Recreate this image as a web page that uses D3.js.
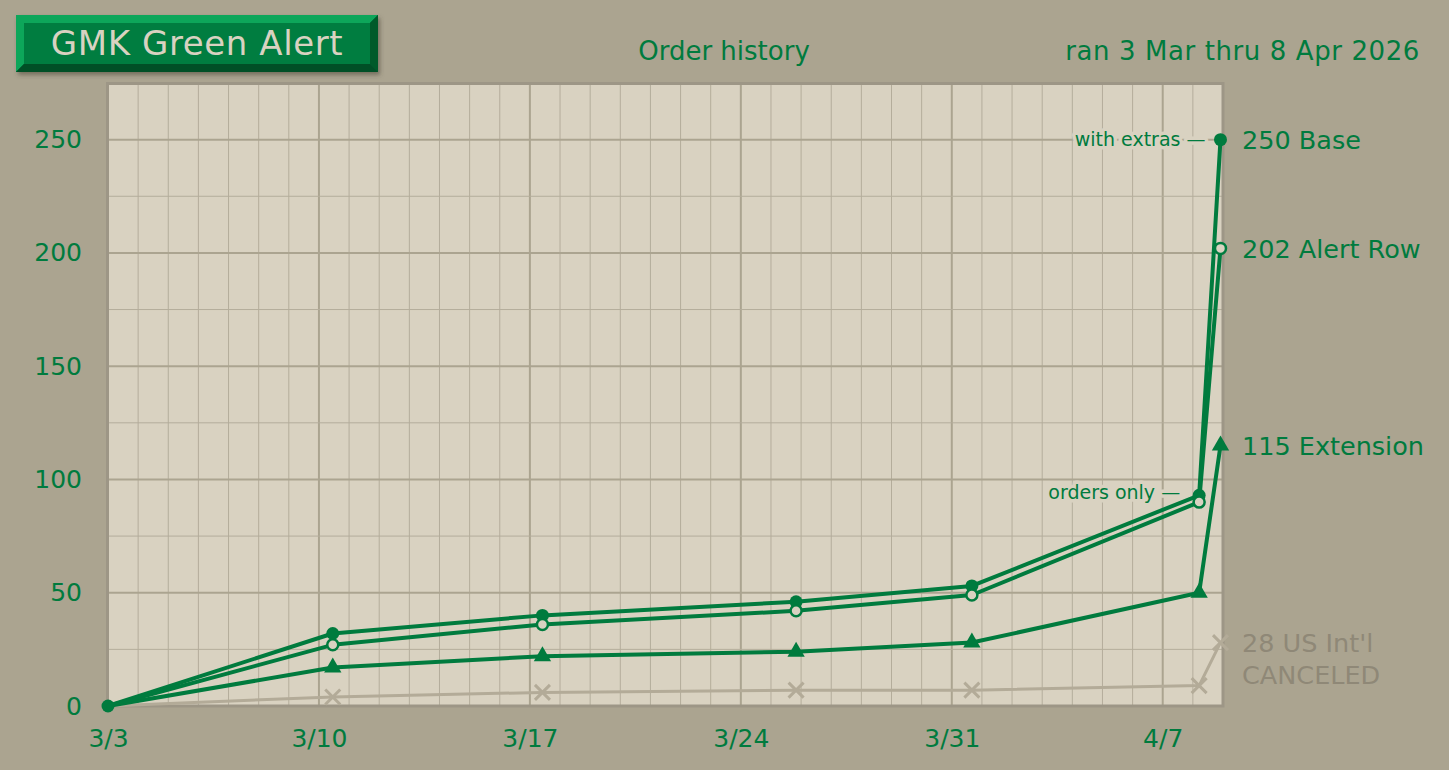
<!DOCTYPE html>
<meta charset="utf-8">
<style>
  html, body {
    margin: 0;
    padding: 0;
    background: #aba490;
  }

  svg {
    display: block;
    font-family: "DejaVu Sans", sans-serif;
  }

  .grid line.minor {
    stroke: #b4ad9b;
    stroke-width: 1;
  }

  .grid line.major {
    stroke: #aba490;
    stroke-width: 2;
  }

  .axis path,
  .axis line {
    display: none;
  }

  .axis text {
    fill: #007b3e;
    font-family: "DejaVu Sans", sans-serif;
    font-size: 25px;
  }

  .frame {
    fill: none;
    stroke: #9d9686;
    stroke-width: 3;
  }

  .series path.trace {
    fill: none;
    stroke-linejoin: round;
    stroke-linecap: round;
  }

  .head {
    fill: #007b3e;
    font-size: 26px;
  }

  .endlabel {
    font-size: 25.5px;
  }

  .note {
    fill: #007b3e;
    font-size: 19px;
    stroke: #d9d2c1;
    stroke-width: 7px;
    stroke-linejoin: round;
    paint-order: stroke;
  }
</style>

<body>
  <script src="https://cdn.jsdelivr.net/npm/d3@7"></script>
  <script>

    // timestamps of each order snapshot
    var dates = ["2026-03-03T00:00", "2026-03-10T11:00", "2026-03-17T10:00", "2026-03-25T20:00",
      "2026-03-31T16:00", "2026-04-08T05:00", "2026-04-08T22:00"];

    var baseKit = [0, 32, 40, 46, 53, 93, 250];
    var alertRow = [0, 27, 36, 42, 49, 90, 202];
    var extension = [0, 17, 22, 24, 28, 50, 115];
    var usIntl = [0, 4, 6, 7, 7, 9, 28];

    var xTickLabels = ["3/3", "3/10", "3/17", "3/24", "3/31", "4/7"];
    var yTicks = [0, 50, 100, 150, 200, 250];

    var width = 1449,
      height = 770,
      plotLeft = 108,
      plotRight = 1223,
      plotTop = 83,
      plotBottom = 706;

    var green = "#007b3e",
      gray = "#b3ab98";

    var parseTime = d3.timeParse("%Y-%m-%dT%H:%M");
    var parseTick = function (s) { return d3.timeParse("%Y/%m/%d")("2026/" + s); };
    var times = dates.map(parseTime);

    var x = d3.scaleTime()
      .domain([parseTick("3/3"), parseTick("4/9")])
      .range([plotLeft, plotRight]);

    var y = d3.scaleLinear()
      .domain([0, 275])
      .range([plotBottom, plotTop]);

    var svg = d3.select("body").append("svg")
      .attr("width", width)
      .attr("height", height);

    var defs = svg.append("defs");
    var shadow = defs.append("filter").attr("id", "shadow")
      .attr("x", "-10%").attr("y", "-30%").attr("width", "120%").attr("height", "170%");
    shadow.append("feDropShadow")
      .attr("dx", 2).attr("dy", 3).attr("stdDeviation", 2)
      .attr("flood-color", "#4a4535").attr("flood-opacity", 0.55);

    // title plate
    var plate = svg.append("g").attr("filter", "url(#shadow)");
    var bx0 = 16, by0 = 15, bx1 = 378, by1 = 72, bev = 8;
    plate.append("rect").attr("x", bx0).attr("y", by0).attr("width", bx1 - bx0).attr("height", by1 - by0).attr("fill", "#005a2c");
    plate.append("polygon")
      .attr("points", [[bx0, by0], [bx1, by0], [bx1 - bev, by0 + bev], [bx0 + bev, by0 + bev], [bx0 + bev, by1 - bev], [bx0, by1]].join(" "))
      .attr("fill", "#10a65a");
    plate.append("polygon")
      .attr("points", [[bx0, by1], [bx0 + bev, by1 - bev], [bx1 - bev, by1 - bev], [bx1, by1]].join(" "))
      .attr("fill", "#004f27");
    plate.append("polygon")
      .attr("points", [[bx1, by0], [bx1, by1], [bx1 - bev, by1 - bev], [bx1 - bev, by0 + bev]].join(" "))
      .attr("fill", "#005a2c");
    plate.append("rect")
      .attr("x", bx0 + bev).attr("y", by0 + bev)
      .attr("width", bx1 - bx0 - 2 * bev).attr("height", by1 - by0 - 2 * bev)
      .attr("fill", "#007d40");
    svg.append("text")
      .attr("x", 197)
      .attr("y", 55)
      .attr("text-anchor", "middle")
      .attr("fill", "#d9d2c1")
      .style("font-size", "34px")
      .style("letter-spacing", "0.6px")
      .text("GMK Green Alert");

    svg.append("text").attr("class", "head")
      .attr("x", 724).attr("y", 60).attr("text-anchor", "middle")
      .text("Order history");
    svg.append("text").attr("class", "head")
      .attr("x", 1420).attr("y", 60).attr("text-anchor", "end")
      .style("letter-spacing", "0.6px")
      .text("ran 3 Mar thru 8 Apr 2026");

    // plot area
    svg.append("rect")
      .attr("x", plotLeft).attr("y", plotTop)
      .attr("width", plotRight - plotLeft).attr("height", plotBottom - plotTop)
      .attr("fill", "#d9d2c1");

    var grid = svg.append("g").attr("class", "grid");
    var days = d3.timeDay.range(x.domain()[0], x.domain()[1]).slice(1);
    var weekTicks = xTickLabels.map(parseTick);
    var isWeek = function (d) { return weekTicks.some(function (w) { return +w === +d; }); };

    grid.selectAll("line.v")
      .data(days)
      .enter().append("line")
      .attr("class", function (d) { return isWeek(d) ? "major" : "minor"; })
      .attr("x1", function (d) { return x(d); })
      .attr("x2", function (d) { return x(d); })
      .attr("y1", plotTop).attr("y2", plotBottom);

    grid.selectAll("line.h")
      .data(d3.range(25, 275, 25))
      .enter().append("line")
      .attr("class", function (d) { return d % 50 === 0 ? "major" : "minor"; })
      .attr("x1", plotLeft).attr("x2", plotRight)
      .attr("y1", function (d) { return y(d); })
      .attr("y2", function (d) { return y(d); });

    svg.append("rect").attr("class", "frame")
      .attr("x", plotLeft - 0.5).attr("y", plotTop + 0.5)
      .attr("width", plotRight - plotLeft + 0.5).attr("height", plotBottom - plotTop - 0.5);

    // axes
    svg.append("g").attr("class", "axis")
      .attr("transform", "translate(0," + (plotBottom + 23) + ")")
      .call(d3.axisBottom(x).tickValues(weekTicks).tickFormat(d3.timeFormat("%-m/%-d")).tickSize(0).tickPadding(0));

    svg.append("g").attr("class", "axis")
      .attr("transform", "translate(" + (plotLeft - 26) + ",0)")
      .call(d3.axisLeft(y).tickValues(yTicks).tickSize(0).tickPadding(0));

    d3.selectAll(".axis .domain").remove();

    var series = [
      { name: "US Int'l", values: usIntl, color: gray, width: 3, marker: "cross" },
      { name: "Extension", values: extension, color: green, width: 4, marker: "triangle" },
      { name: "Base", values: baseKit, color: green, width: 4, marker: "dot" },
      { name: "Alert Row", values: alertRow, color: green, width: 4, marker: "ring" }
    ];

    var line = d3.line()
      .x(function (d) { return x(d.t); })
      .y(function (d) { return y(d.v); });

    series.forEach(function (s) {
      var pts = s.values.map(function (v, i) { return { t: times[i], v: v, i: i }; });
      var g = svg.append("g").attr("class", "series");
      g.append("path")
        .attr("class", "trace")
        .attr("d", line(pts))
        .attr("stroke", s.color)
        .attr("stroke-width", s.width);

      // the shared zero start only carries the base dot
      var m = g.selectAll(".m")
        .data(s.marker === "dot" ? pts : pts.slice(1))
        .enter().append("g")
        .attr("transform", function (d) { return "translate(" + x(d.t) + "," + y(d.v) + ")"; });

      if (s.marker === "dot") {
        m.append("circle").attr("r", 6.5).attr("fill", s.color);
      } else if (s.marker === "ring") {
        m.append("circle").attr("r", 5.5).attr("fill", "#d9d2c1")
          .attr("stroke", s.color).attr("stroke-width", 2.5);
      } else if (s.marker === "triangle") {
        m.append("path").attr("d", d3.symbol(d3.symbolTriangle, 130)()).style("fill", s.color);
      } else {
        m.append("path").attr("d", "M-7.5,-7.5L7.5,7.5M-7.5,7.5L7.5,-7.5")
          .style("fill", "none")
          .attr("stroke", s.color).attr("stroke-width", 3);
      }
    });

    // end labels
    var endLabels = [
      { text: "250 Base", v: 250, color: green },
      { text: "202 Alert Row", v: 202, color: green },
      { text: "115 Extension", v: 115, color: green },
      { text: "28 US Int'l", v: 28, color: "#8f8877" }
    ];
    svg.selectAll(".endlabel")
      .data(endLabels)
      .enter().append("text")
      .attr("class", "endlabel")
      .attr("x", 1242)
      .attr("y", function (d) { return y(d.v); })
      .attr("dy", "0.36em")
      .attr("fill", function (d) { return d.color; })
      .text(function (d) { return d.text; });
    svg.append("text")
      .attr("class", "endlabel")
      .attr("x", 1242)
      .attr("y", y(28) + 32)
      .attr("dy", "0.36em")
      .attr("fill", "#8f8877")
      .text("CANCELED");

    // notes
    svg.append("text").attr("class", "note")
      .attr("x", x(times[6]) - 15).attr("y", y(250)).attr("dy", "0.35em")
      .attr("text-anchor", "end")
      .text("with extras \u2014");
    svg.append("text").attr("class", "note")
      .attr("x", x(times[5]) - 19).attr("y", y(93) - 3).attr("dy", "0.35em")
      .attr("text-anchor", "end")
      .text("orders only \u2014");
  </script>
</body>

</html>
